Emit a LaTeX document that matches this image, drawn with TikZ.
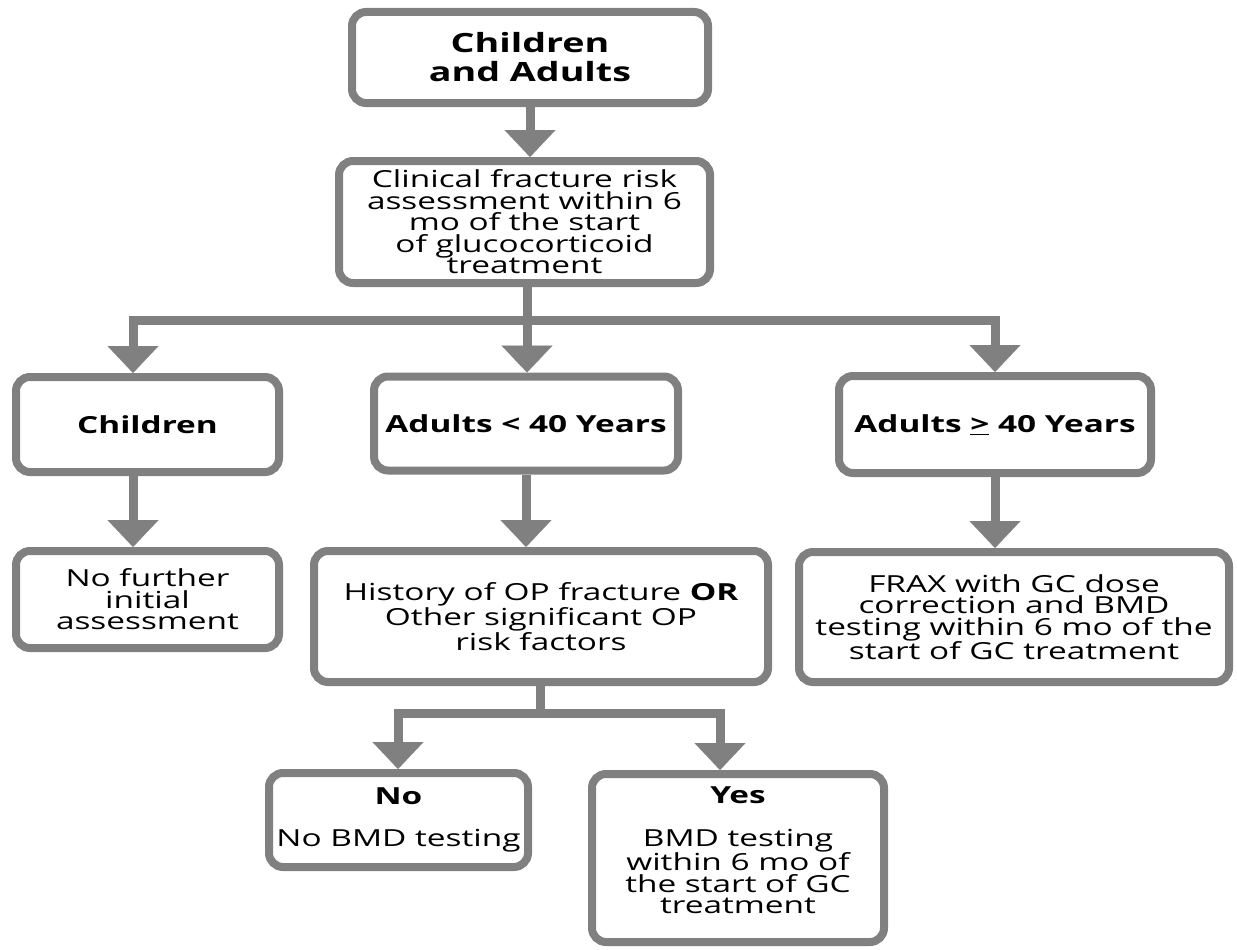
\documentclass[tikz,border=0pt]{standalone}
\usepackage{fontspec}
\setmainfont{Open Sans}[FakeStretch=1.42]
\usetikzlibrary{arrows.meta}
\definecolor{lg}{RGB}{128,128,128}
\begin{document}
\begin{tikzpicture}[x=1pt,y=-1pt,
  box/.style={draw=lg, line width=8pt, rounded corners=14pt, fill=white,
    inner sep=0pt, align=center, text=black, font=\fontsize{23.5}{21.5}\selectfont},
  bold/.style={font=\fontsize{23.5}{21.5}\selectfont\bfseries},
  conn/.style={draw=lg, line width=9pt},
  arr/.style={conn, -{Triangle[width=51pt,length=27pt,line width=0.1pt]}}]
\useasboundingbox (0,0) rectangle (1237,950);
\fill[white] (0,0) rectangle (1237,950);

% boxes
\node[box, minimum width=356pt, minimum height=91pt, font=\fontsize{26.5}{29}\selectfont\bfseries]
  (top) at (530,57.5) {Children\\and Adults};
\node[box, minimum width=371pt, minimum height=122pt]
  (clin) at (524.5,222) {Clinical fracture risk\\assessment within 6\\mo of the start\\of glucocorticoid\\treatment};
\node[box, bold, minimum width=263pt, minimum height=95pt]
  (children) at (147.5,424.5) {Children};
\node[box, bold, minimum width=304pt, minimum height=94pt]
  (young) at (526,423.5) {Adults < 40 Years};
\node[box, bold, minimum width=312pt, minimum height=97pt]
  (old) at (995,424.5) {Adults \underline{>} 40 Years};
\node[box, minimum width=263pt, minimum height=97pt]
  (nofurther) at (147.5,599.5) {No further\\initial\\assessment};
\node[box, minimum width=454pt, minimum height=131pt]
  (history) at (541,616.5) {History of OP fracture \textbf{OR}\\Other significant OP\\risk factors};
\node[box, minimum width=430pt, minimum height=130pt]
  (frax) at (1014,617) {FRAX with GC dose\\correction and BMD\\testing within 6 mo of the\\start of GC treatment};
\node[box, minimum width=259pt, minimum height=94pt]
  (no) at (398.5,820) {\textbf{No}\\[20pt]No BMD testing};
\node[box, minimum width=292pt, minimum height=168pt]
  (yes) at (738,858) {\textbf{Yes}\\[21pt]BMD testing\\within 6 mo of\\the start of GC\\treatment\\[-6pt]\mbox{}};

% branch points
\coordinate (bm) at (527,320);
\coordinate (bl) at (133,320);
\coordinate (br) at (995,320);
\coordinate (hm) at (540,713);
\coordinate (hl) at (398,713);
\coordinate (hr) at (720,713);

% connectors
\draw[arr] (top.south) -- (clin.north -| top.south);
\draw[conn] (clin.south -| bm) -- (bm);
\draw[arr] (bm) -- (bl) -- (children.north -| bl);
\draw[arr] (bm) -- (br) -- (old.north -| br);
\draw[arr] (bm) -- (young.north -| bm);
\draw[arr] (children.south -| bl) -- (nofurther.north -| bl);
\draw[arr] (young.south) -- (history.north -| young.south);
\draw[arr] (old.south) -- (frax.north -| old.south);
\draw[conn] (history.south -| hm) -- (hm);
\draw[arr] (hm) -- (hl) -- (no.north -| hl);
\draw[arr] (hm) -- (hr) -- (yes.north -| hr);
\end{tikzpicture}
\end{document}
